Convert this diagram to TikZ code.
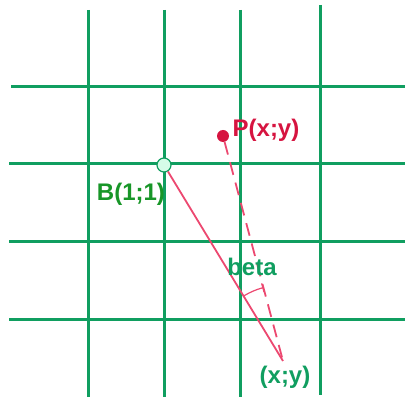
\documentclass[tikz,border=0pt]{standalone}
\usepackage{fontspec}
\setsansfont{Liberation Sans}
\usetikzlibrary{arrows.meta,angles,quotes,calc}
\definecolor{GridGreen}{RGB}{16,158,96}
\definecolor{LabelGreen}{RGB}{24,150,40}
\definecolor{PointRed}{RGB}{214,20,64}
\definecolor{LinePink}{RGB}{236,72,112}
\definecolor{MintFill}{RGB}{214,252,232}

\begin{document}
\begin{tikzpicture}[x=1pt,y=-1pt,>=Latex,
    gridline/.style={GridGreen,line width=3pt},
    lbl/.style={font=\sffamily\bfseries\fontsize{24}{28}\selectfont,inner sep=0pt}]
      \useasboundingbox (0,0) rectangle (405,398);
      % grid
      \foreach \gx in {88,164,240}
        \draw[gridline] (\gx,10)--(\gx,397);
      \draw[gridline] (320,5)--(320,395);
      \draw[gridline] (11,87)--(405,87);
      \foreach \gy in {164,242,320}
        \draw[gridline] (9,\gy)--(405,\gy);
      % points
      \coordinate (E) at (283,361);
      \node[circle,draw=GridGreen,fill=MintFill,line width=1.2pt,
        minimum size=14pt,inner sep=0pt] (B) at (164,165) {};
      \node[circle,fill=PointRed,minimum size=12pt,inner sep=0pt] (P) at (223,136) {};
      \draw[LinePink,line width=1.8pt] (B)--(E);
      \draw[LinePink,line width=1.8pt,dash pattern=on 13pt off 8pt] (P)--(E);
      \pic[draw,LinePink,line width=1.2pt,angle radius=76pt,{Bar[width=9pt]}-]
        {angle=P--E--B};
      % labels
      \node[lbl,PointRed] (Plbl) at (266,130) {P(x;y)};
      \node[lbl,LabelGreen] (Blbl) at (131,194) {B(1;1)};
      \node[lbl,GridGreen] (betalbl) at (252,267) {beta};
      \node[lbl,GridGreen] (Elbl) at (285,377) {(x;y)};
    \end{tikzpicture}
\end{document}
